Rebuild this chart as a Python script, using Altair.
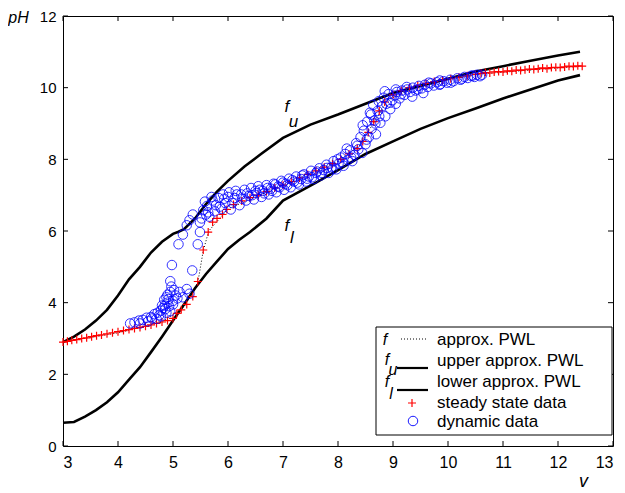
import altair as alt
import pandas as pd

# ---------------- data ----------------
# upper approx. PWL  f_u
up_v = [3.0, 3.2, 3.4, 3.6, 3.8, 4.0, 4.2, 4.4, 4.6, 4.8, 5.0, 5.1, 5.2, 5.4, 5.6, 5.8,
        6.0, 6.3, 6.6, 7.0, 7.5, 8.0, 8.5, 9.0, 9.5, 10.0, 10.5, 11.0, 11.5, 12.0, 12.4]
up_ph = [2.9, 3.05, 3.25, 3.5, 3.8, 4.2, 4.65, 5.0, 5.4, 5.7, 5.92, 5.98, 6.05, 6.35, 6.75, 7.1,
         7.4, 7.8, 8.15, 8.6, 8.97, 9.25, 9.55, 9.85, 10.05, 10.25, 10.45, 10.6, 10.75, 10.9, 11.0]

# lower approx. PWL  f_l
lo_v = [3.0, 3.2, 3.4, 3.6, 3.8, 4.0, 4.2, 4.4, 4.6, 4.8, 5.0, 5.2, 5.4, 5.6, 5.8, 6.0,
        6.2, 6.4, 6.7, 7.0, 7.3, 7.6, 8.0, 8.5, 9.0, 9.5, 10.0, 10.5, 11.0, 11.5, 12.0, 12.4]
lo_ph = [0.65, 0.67, 0.82, 1.0, 1.22, 1.5, 1.85, 2.2, 2.62, 3.05, 3.5, 3.95, 4.4, 4.8, 5.15, 5.5,
         5.75, 5.97, 6.35, 6.85, 7.1, 7.35, 7.7, 8.15, 8.5, 8.85, 9.15, 9.42, 9.7, 9.95, 10.2, 10.35]

# approx. PWL  f
pwl_v = [3.0, 4.0, 4.8, 5.2, 5.45, 5.55, 5.65, 6.0, 7.0, 8.0, 8.4, 8.9, 9.5, 10.5, 12.4]
pwl_ph = [2.9, 3.16, 3.46, 3.88, 4.55, 5.45, 6.0, 6.62, 7.28, 7.95, 8.4, 9.65, 10.08, 10.37, 10.6]

# steady state data
ss_v = [3.0, 3.08, 3.16, 3.25, 3.34, 3.43, 3.52, 3.61, 3.7, 3.8,
        3.9, 4.0, 4.1, 4.2, 4.3, 4.4, 4.5, 4.6, 4.7, 4.8,
        4.9, 5.0, 5.07, 5.15, 5.25, 5.36, 5.45, 5.55, 5.64, 5.72,
        5.8, 5.9, 5.98, 6.1, 6.25, 6.4, 6.55, 6.7, 6.85, 7.0,
        7.15, 7.3, 7.45, 7.6, 7.75, 7.9, 8.05, 8.2, 8.35, 8.45,
        8.55, 8.65, 8.75, 8.85, 9.0, 9.15, 9.3, 9.45, 9.6, 9.75,
        9.9, 10.05, 10.2, 10.35, 10.5,
        10.6, 10.68, 10.76, 10.84, 10.92, 11.0, 11.08, 11.16, 11.24, 11.32,
        11.4, 11.48, 11.56, 11.64, 11.72, 11.8, 11.88, 11.96, 12.04, 12.12,
        12.2, 12.28, 12.36, 12.44]
ss_ph = [2.9, 2.92, 2.95, 2.97, 3.0, 3.02, 3.05, 3.08, 3.1, 3.13,
         3.16, 3.19, 3.22, 3.25, 3.28, 3.31, 3.34, 3.38, 3.42, 3.46,
         3.5, 3.56, 3.7, 3.8, 3.95, 4.17, 4.59, 5.47, 5.97, 6.25,
         6.35, 6.46, 6.6, 6.74, 6.84, 6.93, 7.0, 7.1, 7.2, 7.28,
         7.38, 7.48, 7.58, 7.68, 7.78, 7.88, 8.0, 8.15, 8.3, 8.5,
         8.75, 9.05, 9.35, 9.6, 9.8, 9.92, 10.0, 10.06, 10.12, 10.17,
         10.21, 10.25, 10.29, 10.33, 10.37,
         10.40, 10.42, 10.41, 10.44, 10.45, 10.44, 10.47, 10.46, 10.49, 10.48,
         10.5, 10.52, 10.51, 10.53, 10.55, 10.53, 10.56, 10.57, 10.56, 10.58,
         10.6, 10.59, 10.61, 10.6]

# dynamic data
dyn_v = [4.22, 4.30, 4.38, 4.45, 4.52, 4.60, 4.66, 4.72, 4.78, 4.82,
         4.85, 4.88, 4.90, 4.92, 4.90, 4.95, 4.86, 4.93, 5.00, 5.05,
         5.12, 5.18, 5.25, 5.30, 4.78, 4.95, 5.00, 4.70, 4.84, 4.97,
         4.95, 4.98, 5.35, 5.10, 5.45, 5.18, 5.49, 5.25, 5.49, 5.36,
         5.60, 5.30, 5.55, 5.62, 5.66, 5.72, 5.76, 5.83, 5.88, 5.91,
         5.95, 6.02, 6.05, 6.12, 6.14, 6.21, 6.24, 6.30, 6.33, 6.38,
         6.42, 6.47, 6.52, 6.55, 6.61, 6.63, 6.70, 6.74, 6.78, 6.83,
         6.88, 6.91, 6.97, 7.02, 7.05, 7.11, 7.14, 7.20, 7.24, 7.29,
         7.33, 7.38, 7.42, 7.47, 7.51, 7.56, 7.60, 7.66, 7.69, 7.74,
         7.79, 7.83, 7.88, 7.92, 7.97, 8.01, 8.05, 8.10, 8.13, 8.18,
         8.22, 8.26, 8.30, 8.33, 8.37, 8.41, 8.44, 8.47, 8.50, 8.53,
         8.56, 8.58, 8.61, 8.64, 8.66, 8.69, 8.72, 8.74, 8.77, 8.80,
         8.83, 8.86, 8.88, 8.92, 8.95, 8.99, 9.03, 9.07, 9.12, 9.16,
         9.21, 9.26, 9.31, 9.36, 9.41, 9.47, 9.52, 9.58, 9.63, 9.69,
         9.74, 9.80, 9.86, 9.92, 9.98, 10.04, 10.10, 10.17, 10.23, 10.30,
         10.36, 10.42, 10.48, 10.53, 10.58, 10.62, 9.05, 9.35, 9.55, 9.85,
         5.52, 5.58, 5.64, 5.70, 5.78, 5.85, 5.93, 6.00, 6.08, 6.16,
         6.26, 6.35, 6.44, 6.50, 6.58, 6.66, 6.72, 6.80, 6.86, 6.94,
         7.00, 7.08, 7.17, 7.26, 7.35, 7.44, 7.53, 7.62, 7.71, 7.80,
         7.90, 7.99, 8.08, 8.16, 8.24, 8.35, 8.45, 8.52, 8.60, 8.68,
         8.75, 8.85, 8.95, 9.05, 9.15, 9.25, 9.45, 9.65, 9.85, 10.05,
         10.25, 10.45, 4.40, 4.55, 4.62, 4.75, 4.80, 4.88, 5.02, 5.08]
dyn_ph = [3.42, 3.45, 3.50, 3.52, 3.58, 3.60, 3.68, 3.72, 3.78, 3.85,
          3.92, 3.72, 4.00, 4.10, 4.22, 4.30, 3.82, 3.90, 4.05, 4.20,
          4.30, 4.15, 4.38, 4.25, 3.62, 3.76, 3.95, 3.55, 4.08, 4.45,
          4.60, 5.05, 4.90, 5.63, 5.63, 5.90, 5.97, 6.16, 6.24, 6.46,
          6.46, 6.30, 6.58, 6.70, 6.40, 6.85, 6.55, 6.92, 6.62, 7.02,
          6.78, 7.08, 6.60, 6.92, 7.12, 6.72, 7.02, 7.15, 6.85, 6.98,
          7.20, 6.88, 7.06, 7.25, 6.95, 7.12, 7.28, 7.02, 7.18, 7.32,
          7.08, 7.24, 7.40, 7.15, 7.32, 7.46, 7.22, 7.38, 7.52, 7.30,
          7.45, 7.58, 7.38, 7.52, 7.68, 7.45, 7.62, 7.75, 7.55, 7.70,
          7.85, 7.62, 7.78, 7.95, 7.72, 7.88, 8.05, 7.82, 8.15, 7.98,
          8.25, 7.95, 8.12, 8.45, 8.28, 8.62, 8.18, 8.80, 8.42, 9.05,
          8.62, 9.30, 8.85, 9.52, 9.08, 8.70, 9.35, 9.62, 9.02, 9.48,
          9.72, 9.20, 9.55, 9.82, 9.40, 9.65, 9.78, 9.88, 9.70, 9.92,
          9.80, 9.95, 9.88, 10.00, 9.92, 10.05, 9.98, 10.08, 10.02, 10.12,
          10.06, 10.15, 10.10, 10.18, 10.14, 10.22, 10.18, 10.26, 10.22, 10.30,
          10.27, 10.33, 10.30, 10.36, 10.32, 10.36, 9.55, 9.75, 9.85, 10.08,
          6.35, 6.82, 6.52, 6.95, 6.72, 6.68, 6.90, 6.95, 6.78, 7.02,
          6.90, 7.05, 7.00, 7.12, 7.15, 7.05, 7.20, 7.12, 7.30, 7.22,
          7.35, 7.28, 7.42, 7.35, 7.55, 7.46, 7.50, 7.66, 7.62, 7.76,
          7.72, 8.00, 7.92, 8.30, 8.05, 8.38, 8.95, 8.55, 9.25, 9.00,
          9.20, 9.90, 9.58, 9.95, 9.82, 10.02, 9.95, 10.14, 10.20, 10.14,
          10.25, 10.34, 3.42, 3.48, 3.56, 3.65, 3.92, 4.15, 4.35, 4.12]

x_ticks = [3, 4, 5, 6, 7, 8, 9, 10, 11, 12, 13]
y_ticks = [0, 2, 4, 6, 8, 10, 12]

ann_text = ["f", "u", "f", "l"]
ann_v = [7.07, 7.19, 7.07, 7.16]
ann_ph = [9.45, 9.05, 6.15, 5.8]

legend_labels = ["approx. PWL", "upper approx. PWL", "lower approx. PWL",
                 "steady state data", "dynamic data"]

# ---------------- chart ----------------
W, H = 550, 430
TOP = 8
FONT = "Liberation Sans"
xs = alt.Scale(domain=[3, 13], nice=False, zero=False)
ys = alt.Scale(domain=[0, 12], nice=False, zero=False)

x_axis = alt.Axis(values=x_ticks, ticks=False, domain=False, grid=False,
                  labelFont=FONT, labelFontSize=16, labelColor="black", labelPadding=8,
                  title="v", titleFont=FONT, titleFontSize=18, titleFontStyle="italic",
                  titleFontWeight="normal", titleColor="black",
                  titleX=520, titleY=35, titleAlign="center", titleBaseline="middle")
y_axis = alt.Axis(values=y_ticks, ticks=False, domain=False, grid=False,
                  labelFont=FONT, labelFontSize=15, labelColor="black", labelPadding=7,
                  title="pH", titleFont=FONT, titleFontSize=16, titleFontStyle="italic",
                  titleFontWeight="normal", titleColor="black", titleAngle=0,
                  titleX=-45, titleY=1, titleAlign="center", titleBaseline="middle")


def X():
    return alt.X("v:Q", scale=xs, axis=x_axis)


def Y():
    return alt.Y("pH:Q", scale=ys, axis=y_axis)


up_df = pd.DataFrame({"v": up_v, "pH": up_ph})
lo_df = pd.DataFrame({"v": lo_v, "pH": lo_ph})
pwl_df = pd.DataFrame({"v": pwl_v, "pH": pwl_ph})
ss_df = pd.DataFrame({"v": ss_v, "pH": ss_ph})
dyn_df = pd.DataFrame({"v": dyn_v, "pH": dyn_ph})
ann_df = pd.DataFrame({"v": ann_v, "pH": ann_ph, "t": ann_text})
xt_df = pd.DataFrame({"v": x_ticks})
yt_df = pd.DataFrame({"pH": y_ticks})
one = pd.DataFrame({"a": [0]})

PLUS = "M-1,0H1M0,-1V1"

upper = alt.Chart(up_df).mark_line(color="black", strokeWidth=2.6).encode(x=X(), y=Y())
lower = alt.Chart(lo_df).mark_line(color="black", strokeWidth=2.6).encode(x=X(), y=Y())
pwl = alt.Chart(pwl_df).mark_line(color="black", strokeWidth=1, strokeDash=[1, 2]).encode(x=X(), y=Y())
ss = alt.Chart(ss_df).mark_point(shape=PLUS, size=64, stroke="red", strokeWidth=1.2,
                                 filled=False, opacity=1).encode(x=X(), y=Y())
dyn = alt.Chart(dyn_df).mark_point(shape="circle", size=90, stroke="#0000ff", strokeWidth=1,
                                   filled=False, opacity=0.8).encode(x=X(), y=Y())
ann_f = alt.Chart(ann_df).mark_text(font=FONT, fontSize=17, fontStyle="italic", color="black").encode(
    x=X(), y=Y(), text="t:N")

xt_bot = alt.Chart(xt_df).mark_rule(color="black", strokeWidth=1).encode(
    x=X(), y=alt.value(H), y2=alt.value(H - 5))
xt_top = alt.Chart(xt_df).mark_rule(color="black", strokeWidth=1).encode(
    x=X(), y=alt.value(0), y2=alt.value(5))
yt_left = alt.Chart(yt_df).mark_rule(color="black", strokeWidth=1).encode(
    y=Y(), x=alt.value(0), x2=alt.value(5))
yt_right = alt.Chart(yt_df).mark_rule(color="black", strokeWidth=1).encode(
    y=Y(), x=alt.value(W), x2=alt.value(W - 5))

# legend box (pixel positions inside the plot area)
OY = 13 - TOP + 5  # keep legend where it sits in the reference
lg_box = alt.Chart(one).mark_rect(fill="white", stroke="black", strokeWidth=1).encode(
    x=alt.value(313), x2=alt.value(549), y=alt.value(314 - 3), y2=alt.value(422 - 3))
row_y = [324, 345, 366, 387, 406]
lg_texts = [alt.Chart(one).mark_text(font=FONT, fontSize=17, align="left", baseline="middle",
                                     color="black").encode(
    x=alt.value(374), y=alt.value(yy), text=alt.value(lab)) for lab, yy in zip(legend_labels, row_y)]
f_items = [("f", 322, 324), ("f", 324, 344), ("u", 330, 354), ("f", 324, 366), ("l", 328, 378)]
lg_f = [alt.Chart(one).mark_text(font=FONT, fontSize=16, fontStyle="italic", align="center",
                                 baseline="middle", color="black").encode(
    x=alt.value(xx), y=alt.value(yy), text=alt.value(t)) for t, xx, yy in f_items]
lg_dot = alt.Chart(one).mark_rule(color="black", strokeWidth=1, strokeDash=[1, 2]).encode(
    x=alt.value(338), x2=alt.value(363), y=alt.value(323))
lg_up = alt.Chart(one).mark_rule(color="black", strokeWidth=2.2).encode(
    x=alt.value(334), x2=alt.value(365), y=alt.value(352))
lg_lo = alt.Chart(one).mark_rule(color="black", strokeWidth=2.2).encode(
    x=alt.value(334), x2=alt.value(365), y=alt.value(374))
lg_ss = alt.Chart(one).mark_point(shape=PLUS, size=64, stroke="red", strokeWidth=1.2,
                                  filled=False, opacity=1).encode(x=alt.value(349), y=alt.value(387))
lg_dyn = alt.Chart(one).mark_point(shape="circle", size=90, stroke="#0000ff", strokeWidth=1,
                                   filled=False, opacity=0.9).encode(x=alt.value(350), y=alt.value(405))

chart = alt.layer(
    upper, lower, pwl, ss, dyn, ann_f, xt_bot, xt_top, yt_left, yt_right,
    lg_box, *lg_texts, *lg_f, lg_dot, lg_up, lg_lo, lg_ss, lg_dyn
).properties(
    width=W, height=H,
    autosize=alt.AutoSizeParams(type="none"),
    padding={"left": 55, "top": TOP, "right": 4, "bottom": 46},
    background="white",
).configure_view(stroke="black", strokeWidth=1)

chart.save("out.html", embed_options={"renderer": "svg", "actions": False})
